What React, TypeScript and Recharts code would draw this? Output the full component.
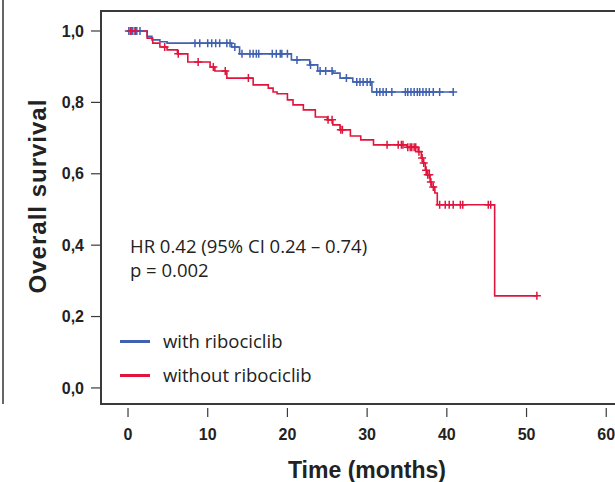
import React from "react";
import {
  ComposedChart,
  Line,
  Scatter,
  XAxis,
  YAxis,
} from "recharts";

// Kaplan-Meier steps (months, survival)
const blueTimes = [0, 2.4, 3.0, 4.0, 4.9, 13.0, 14.0, 20.5, 22.8, 23.8, 25.7, 26.6, 28.2, 30.6, 40.8];
const blueSurv = [1.0, 0.985, 0.975, 0.97, 0.966, 0.955, 0.936, 0.919, 0.905, 0.888, 0.882, 0.868, 0.857, 0.829, 0.829];
const blueCensor = [
  0.1, 0.4, 0.6, 0.9, 1.1, 1.5, 8.4, 9.0, 10.0, 10.5, 11.0, 11.5, 12.4, 12.8, 13.4, 14.3, 15.3, 15.7,
  16.1, 16.4, 18.1, 18.6, 19.1, 19.3, 20.0, 21.2, 22.9, 24.1, 24.8, 25.6, 27.4, 28.7, 29.1, 29.5, 30.0,
  30.4, 31.2, 31.6, 32.0, 32.4, 33.1, 34.8, 35.1, 35.5, 35.9, 36.3, 36.6, 37.0, 37.4, 37.8, 38.3, 39.1, 40.8,
];

const redTimes = [
  0, 2.4, 3.1, 4.0, 4.9, 6.2, 7.5, 10.3, 10.9, 12.4, 15.7, 17.6, 18.2, 18.7, 20.0, 20.7, 22.0, 23.5,
  25.0, 25.7, 26.6, 27.9, 29.2, 30.8, 35.0, 36.4, 36.8, 37.0, 37.3, 37.5, 37.9, 38.1, 38.5, 38.8, 46.0, 51.3,
];
const redSurv = [
  1.0, 0.98, 0.966, 0.955, 0.947, 0.936, 0.913, 0.899, 0.888, 0.868, 0.849, 0.84, 0.829, 0.824, 0.807,
  0.793, 0.779, 0.759, 0.751, 0.737, 0.723, 0.706, 0.695, 0.681, 0.674, 0.662, 0.644, 0.63, 0.61, 0.597,
  0.577, 0.563, 0.546, 0.513, 0.258, 0.258,
];
const redCensor = [
  0.3, 0.9, 4.6, 6.3, 8.8, 10.7, 12.2, 15.1, 25.1, 25.6, 26.7, 26.9, 32.5, 33.9, 34.3, 34.5, 35.1, 35.4,
  35.6, 35.9, 36.1, 36.5, 36.9, 37.1, 37.4, 37.6, 37.8, 38.0, 38.3, 39.1, 39.8, 40.3, 40.8, 41.7, 42.0,
  45.2, 45.5, 51.3,
];

const xTicks = [0, 10, 20, 30, 40, 50, 60];
const yTicks = [0, 0.2, 0.4, 0.6, 0.8, 1.0];

const BLUE = "#4060B0";
const RED = "#E0143C";
const AXIS = "#3a3a3a";
const FONT = "'Liberation Sans', Arial, sans-serif";
const TEXT_FONT = "'Open Sans', 'Noto Sans', sans-serif";

const steps = (times: number[], surv: number[]) =>
  times.map((t, i) => ({ t, s: surv[i] }));

// survival value of the step that is in force at time t
const censorPoints = (times: number[], surv: number[], censor: number[]) =>
  censor.map((c) => {
    let s = surv[0];
    times.forEach((t, i) => {
      if (t <= c) s = surv[i];
    });
    return { t: c, s };
  });

const plus = (color: string) => (props: any) => {
  const { cx, cy } = props;
  return (
    <path
      d={`M${cx - 4},${cy}h8M${cx},${cy - 4}v8`}
      stroke={color}
      strokeWidth={1.5}
      fill="none"
    />
  );
};

const XTick = (props: any) => {
  const { x, y, payload } = props;
  return (
    <g>
      <line x1={x} x2={x} y1={y + 4} y2={y + 13} stroke={AXIS} strokeWidth={1.2} />
      <text
        x={x}
        y={y + 30}
        textAnchor="middle"
        dominantBaseline="central"
        fontFamily={FONT}
        fontWeight="bold"
        fontSize={16}
        fill="#222"
      >
        {payload.value}
      </text>
    </g>
  );
};

const textStyle: React.CSSProperties = {
  position: "absolute",
  fontFamily: TEXT_FONT,
  fontSize: 18.5,
  lineHeight: "22px",
  color: "#222",
  whiteSpace: "nowrap",
};

const lineStyle: React.CSSProperties = {
  position: "absolute",
  background: AXIS,
  zIndex: 5,
};

export default function App() {
  const blueData = steps(blueTimes, blueSurv);
  const redData = steps(redTimes, redSurv);
  const blueMarks = censorPoints(blueTimes, blueSurv, blueCensor);
  const redMarks = censorPoints(redTimes, redSurv, redCensor);

  const xMin = -3.39;
  const xMax = 68;
  const yMin = -0.045;
  const yMax = 1.056;

  return (
    <div
      style={{
        position: "absolute",
        left: 0,
        top: 0,
        width: 615,
        height: 482,
        overflow: "hidden",
        background: "#fff",
      }}
    >
      <div style={{ ...lineStyle, left: 2, top: 0, width: 1.5, height: 404, background: "#666" }} />
      <ComposedChart
        width={680}
        height={482}
        margin={{ top: 11, right: 10, bottom: 0, left: 0 }}
      >
        <XAxis
          dataKey="t"
          type="number"
          domain={[xMin, xMax]}
          ticks={xTicks}
          allowDataOverflow
          height={78}
          axisLine={false}
          tickLine={false}
          tickSize={0}
          tickMargin={0}
          tick={<XTick />}
        />
        <YAxis
          dataKey="s"
          type="number"
          domain={[yMin, yMax]}
          ticks={yTicks}
          allowDataOverflow
          width={101}
          axisLine={false}
          tickLine={{ stroke: AXIS, strokeWidth: 1.2 }}
          tickSize={10}
          tickMargin={7}
          tickFormatter={(v: number) => v.toFixed(1).replace(".", ",")}
          tick={{ fontFamily: FONT, fontWeight: "bold", fontSize: 16, fill: "#222" }}
        />
        <Line
          data={blueData}
          dataKey="s"
          type="stepAfter"
          stroke={BLUE}
          strokeWidth={1.6}
          dot={false}
          isAnimationActive={false}
        />
        <Line
          data={redData}
          dataKey="s"
          type="stepAfter"
          stroke={RED}
          strokeWidth={1.6}
          dot={false}
          isAnimationActive={false}
        />
        <Scatter data={blueMarks} dataKey="s" shape={plus(BLUE)} isAnimationActive={false} />
        <Scatter data={redMarks} dataKey="s" shape={plus(RED)} isAnimationActive={false} />
      </ComposedChart>

      {/* plot frame, open on the right where the page cuts it */}
      <div style={{ ...lineStyle, left: 100, top: 10, width: 515, height: 1.5 }} />
      <div style={{ ...lineStyle, left: 100, top: 10, width: 1.5, height: 395 }} />
      <div style={{ ...lineStyle, left: 100, top: 403, width: 515, height: 1.5 }} />

      <div
        style={{
          position: "absolute",
          left: 38,
          top: 196,
          transform: "translate(-50%, -50%) rotate(-90deg)",
          whiteSpace: "nowrap",
          fontFamily: FONT,
          fontWeight: "bold",
          fontSize: 24,
          letterSpacing: 1,
          color: "#222",
        }}
      >
        Overall survival
      </div>
      <div
        style={{
          position: "absolute",
          left: 367,
          top: 470,
          transform: "translate(-50%, -50%)",
          whiteSpace: "nowrap",
          fontFamily: FONT,
          fontWeight: "bold",
          fontSize: 23,
          color: "#222",
        }}
      >
        Time (months)
      </div>

      <div style={{ ...textStyle, left: 130, top: 235 }}>
        HR 0.42 (95% CI 0.24 – 0.74)
      </div>
      <div style={{ ...textStyle, left: 130, top: 259 }}>p = 0.002</div>

      {[
        { label: "with ribociclib", color: BLUE, y: 341 },
        { label: "without ribociclib", color: RED, y: 375 },
      ].map((d) => (
        <React.Fragment key={d.label}>
          <div
            style={{
              position: "absolute",
              left: 120,
              top: d.y - 1,
              width: 30,
              height: 2.5,
              background: d.color,
            }}
          />
          <div style={{ ...textStyle, left: 163, top: d.y - 11 }}>{d.label}</div>
        </React.Fragment>
      ))}
    </div>
  );
}
